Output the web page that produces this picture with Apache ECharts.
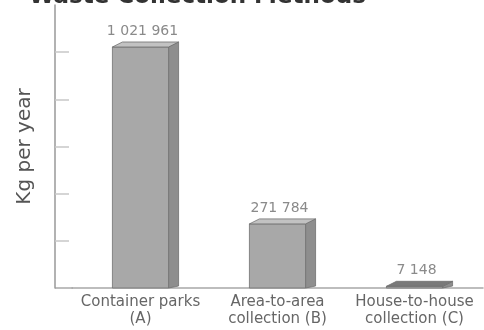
<!DOCTYPE html>
<html>
<head>
<meta charset="utf-8">
<script src="https://cdn.jsdelivr.net/npm/echarts@6/dist/echarts.min.js"></script>
<style>
  html, body { margin: 0; padding: 0; background: #fff; }
  #chart { width: 484px; height: 330px; }
</style>
</head>
<body>
<div id="chart"></div>
<script>
// Annual quantities collected per collection method
const categories = ['Container parks\n(A)', 'Area-to-area\ncollection (B)', 'House-to-house\ncollection (C)'];
const kgPerYear = [1021961, 271784, 7148];
const tickValues = [200000, 400000, 600000, 800000, 1000000];

const FONT = '"DejaVu Sans", "Liberation Sans", sans-serif';

// thousands separated by spaces: 1 021 961
function fmt(v) {
  return String(v).replace(/\B(?=(\d{3})+(?!\d))/g, ' ');
}

// Pseudo-3D bar: front face, right side face and top face
function renderItem(params, api) {
  const idx = api.value(0);
  const v = api.value(1);
  const top = api.coord([idx, v]);
  const base = api.coord([idx, 0]);
  const band = api.size([1, 0])[0];
  const w = band * 0.41;
  const dx = 10, dy = 5;
  const x0 = top[0] - w / 2;
  const x1 = top[0] + w / 2;
  const yT = top[1];
  const yB = base[1];
  const stroke = { stroke: '#707070', lineWidth: 0.8 };
  return {
    type: 'group',
    children: [
      {
        type: 'polygon',
        shape: { points: [[x1, yT], [x1 + dx, yT - dy], [x1 + dx, yB - 2], [x1, yB]] },
        style: Object.assign({ fill: '#8e8e8e' }, stroke)
      },
      {
        type: 'rect',
        shape: { x: x0, y: yT, width: w, height: Math.max(yB - yT, 0.5) },
        style: Object.assign({ fill: '#a8a8a8' }, stroke)
      },
      {
        type: 'polygon',
        shape: { points: [[x0, yT], [x0 + dx, yT - dy], [x1 + dx, yT - dy], [x1, yT]] },
        style: Object.assign({ fill: v < 50000 ? '#7a7a7a' : '#c2c2c2' }, stroke)
      },
      {
        type: 'text',
        style: {
          x: top[0] + 2,
          y: yT - dy - 4,
          text: fmt(v),
          fill: '#8a8a8a',
          font: '14px ' + FONT,
          textAlign: 'center',
          textVerticalAlign: 'bottom'
        }
      }
    ]
  };
}

const chart = echarts.init(document.getElementById('chart'), null, { renderer: 'canvas' });

chart.setOption({
  animation: false,
  backgroundColor: '#ffffff',
  title: {
    text: 'Waste Collection Methods',
    left: 24,
    top: -19,
    textStyle: { fontFamily: FONT, fontSize: 23, fontWeight: 'bold', color: '#333' }
  },
  grid: { left: 72, right: 1, top: 5, bottom: 42 },
  xAxis: {
    type: 'category',
    data: categories,
    axisLine: { show: true, lineStyle: { color: '#a8a8a8', width: 1.5 } },
    axisTick: { show: false },
    axisLabel: {
      margin: 6,
      color: '#666',
      fontFamily: FONT,
      fontSize: 15,
      lineHeight: 17,
      interval: 0
    }
  },
  yAxis: {
    type: 'value',
    min: 0,
    max: 1200000,
    offset: 17,
    name: 'Kg per year',
    nameLocation: 'middle',
    nameGap: 20,
    nameTextStyle: { fontFamily: FONT, fontSize: 20, color: '#555' },
    axisLine: { show: true, lineStyle: { color: '#999', width: 1.5 } },
    axisTick: {
      show: true,
      inside: true,
      length: 14,
      customValues: tickValues,
      lineStyle: { color: '#c8c8c8', width: 1.5 }
    },
    axisLabel: { show: false },
    splitLine: { show: false }
  },
  graphic: [
    {
      type: 'line',
      shape: { x1: 55, y1: 288, x2: 73, y2: 288 },
      style: { stroke: '#a8a8a8', lineWidth: 1.5 }
    }
  ],
  series: [
    {
      type: 'custom',
      renderItem: renderItem,
      encode: { x: 0, y: 1 },
      data: kgPerYear.map((v, i) => [i, v])
    }
  ]
});
</script>
</body>
</html>
